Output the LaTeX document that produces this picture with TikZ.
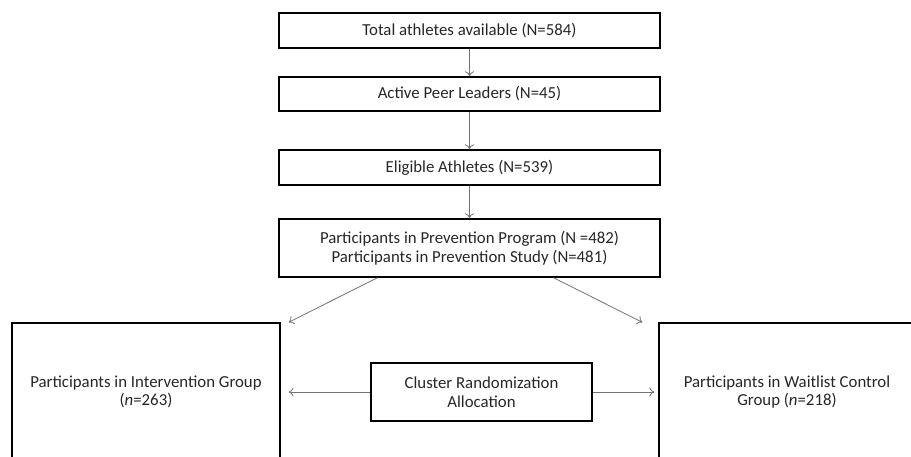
\documentclass[tikz,border=0pt]{standalone}
\usepackage{fontspec}
\setmainfont{Carlito}
\usetikzlibrary{arrows.meta}
\begin{document}
\begin{tikzpicture}[x=1pt,y=-1pt,
    box/.style={draw, line width=1.4pt, align=center, inner sep=0pt,
      text=black!85, font=\fontsize{16.8}{18.5}\selectfont},
    arr/.style={draw=black!55, line width=0.8pt, -{To[length=5pt,width=9pt]}}]
        \useasboundingbox (0,0) rectangle (911,456);
        \clip (0,0) rectangle (911,456);
        \node[box, minimum width=381, minimum height=35] (total) at (469.5,30.5) {Total athletes available (N=584)};
        \node[box, minimum width=381, minimum height=34] (peer) at (469.5,94) {Active Peer Leaders (N=45)};
        \node[box, minimum width=381, minimum height=35] (elig) at (469.5,167.5) {Eligible Athletes (N=539)};
        \node[box, minimum width=381, minimum height=58] (prog) at (469.5,248) {Participants in Prevention Program (N =482)\\Participants in Prevention Study (N=481)};
        \node[box, minimum width=268, minimum height=138] (inter) at (146,392) {Participants in Intervention Group\\(\textit{n}=263)};
        \node[box, minimum width=256, minimum height=138] (ctrl) at (787,392) {Participants in Waitlist Control\\Group (\textit{n}=218)};
        \node[box, minimum width=221, minimum height=58] (rand) at (481.5,392) {Cluster Randomization\\Allocation};
        \draw[arr] (total) -- (peer);
        \draw[arr] (peer) -- (elig);
        \draw[arr] (elig) -- (prog);
        \draw[arr] ([xshift=-92pt]prog.south) -- ([xshift=8pt]inter.north east);
        \draw[arr] ([xshift=84pt]prog.south) -- ([xshift=-16pt]ctrl.north west);
        \draw[arr] (rand.west) -- ([xshift=8pt]inter.east);
        \draw[arr] (rand.east) -- ([xshift=-4pt]ctrl.west);
      \end{tikzpicture}
\end{document}
